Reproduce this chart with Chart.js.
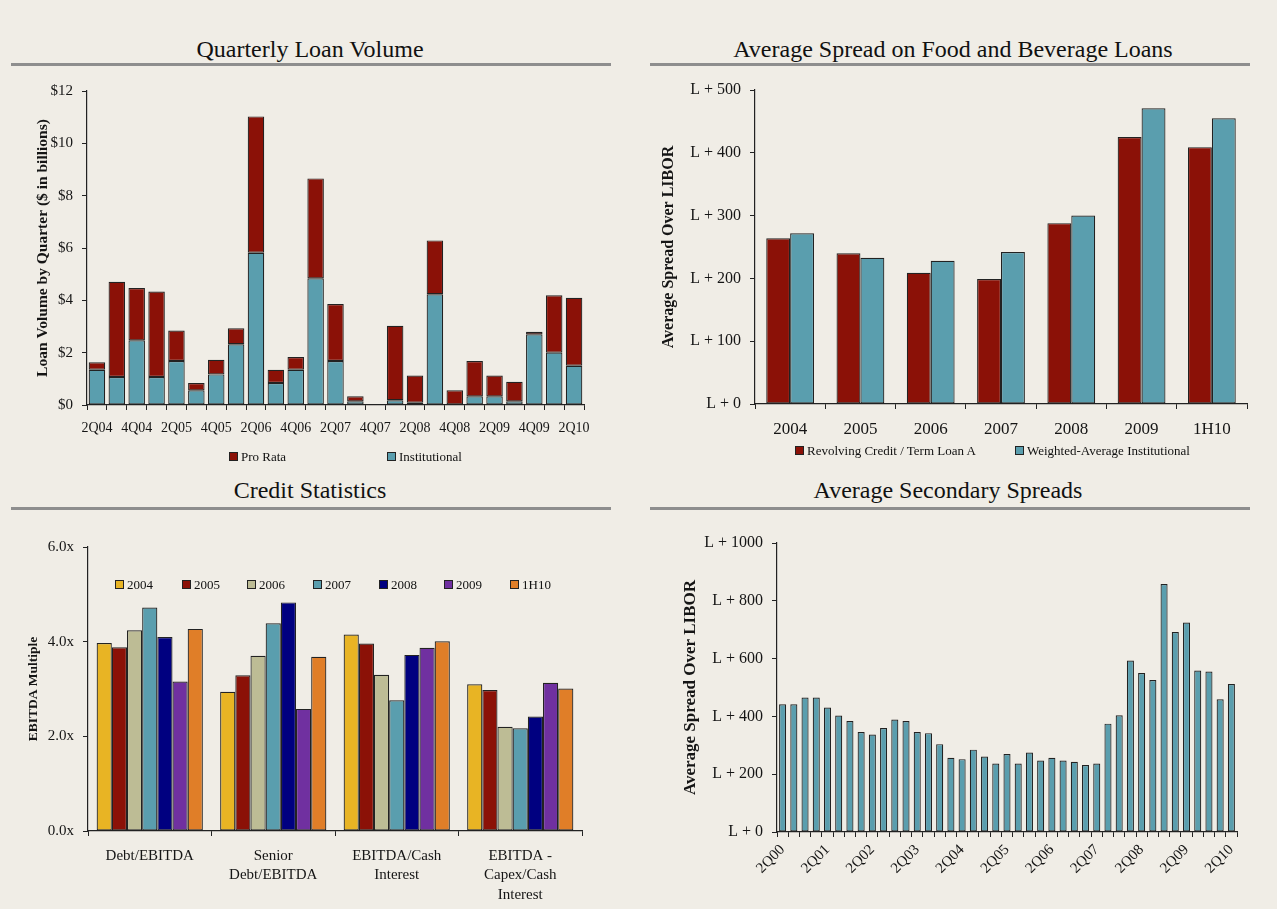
<!DOCTYPE html>
<html>
<head>
<meta charset="utf-8">
<script src="https://cdn.jsdelivr.net/npm/chart.js@4.4.0/dist/chart.umd.min.js"></script>
<style>
  html, body { margin:0; padding:0; }
  body { width:1277px; height:909px; overflow:hidden; position:relative; background:#F0EDE6;
         font-family:"Liberation Serif","Times New Roman",serif; color:#111; }
  .title { position:absolute; text-align:center; font-size:24px; line-height:1; white-space:nowrap; }
  .rule { position:absolute; height:3px; background:#8e8e8e; }
  canvas { position:absolute; }
  .lg { position:absolute; display:flex; align-items:center; font-size:13px; white-space:nowrap; line-height:1; }
  .sw { display:inline-block; width:7px; height:7px; border:1px solid #222; margin-right:3px; }
</style>
</head>
<body>
<div class="title" style="left:10px;width:600px;top:37px;">Quarterly Loan Volume</div>
<div class="rule" style="left:11px;width:600px;top:63px;"></div>
<div class="title" style="left:653px;width:600px;top:37px;">Average Spread on Food and Beverage Loans</div>
<div class="rule" style="left:650px;width:600px;top:63px;"></div>
<div class="title" style="left:10px;width:600px;top:478px;">Credit Statistics</div>
<div class="rule" style="left:11px;width:600px;top:507px;"></div>
<div class="title" style="left:648px;width:600px;top:478px;">Average Secondary Spreads</div>
<div class="rule" style="left:650px;width:600px;top:507px;"></div>

<canvas id="c1" width="620" height="380" style="left:0;top:70px;"></canvas>
<canvas id="c2" width="637" height="380" style="left:640px;top:70px;"></canvas>
<canvas id="c3" width="620" height="389" style="left:0;top:520px;"></canvas>
<canvas id="c4" width="637" height="389" style="left:640px;top:520px;"></canvas>
<div id="legends"></div>

<script>
// ---------- DATA ----------
const loanQuarters = ['2Q04','3Q04','4Q04','1Q05','2Q05','3Q05','4Q05','1Q06','2Q06','3Q06','4Q06','1Q07','2Q07','3Q07','4Q07','1Q08','2Q08','3Q08','4Q08','1Q09','2Q09','3Q09','4Q09','1Q10','2Q10'];
const institutionalVolume = [1.35,1.07,2.47,1.07,1.68,0.56,1.17,2.32,5.82,0.84,1.35,4.84,1.68,0.14,0,0.18,0.09,4.23,0,0.33,0.33,0.14,2.70,2.00,1.50];
const proRataVolume       = [0.28,3.64,2.00,3.27,1.17,0.28,0.56,0.61,5.21,0.51,0.48,3.82,2.18,0.19,0,2.85,1.04,2.06,0.56,1.35,0.80,0.75,0.10,2.19,2.60];
const loanVolumeTicks = [0,2,4,6,8,10,12];

const spreadYears = ['2004','2005','2006','2007','2008','2009','1H10'];
const revolvingSpread = [264,240,209,199,288,425,409];
const institutionalSpread = [272,233,228,242,300,471,455];

const creditCategories = [['Debt/EBITDA'],['Senior','Debt/EBITDA'],['EBITDA/Cash','Interest'],['EBITDA -','Capex/Cash','Interest']];
const creditYears = ['2004','2005','2006','2007','2008','2009','1H10'];
const credit2004 = [3.97,2.94,4.15,3.10];
const credit2005 = [3.88,3.29,3.96,2.98];
const credit2006 = [4.24,3.70,3.30,2.20];
const credit2007 = [4.72,4.39,2.76,2.17];
const credit2008 = [4.10,4.83,3.72,2.42];
const credit2009 = [3.16,2.58,3.87,3.13];
const credit1H10 = [4.27,3.68,4.01,3.01];

const secondaryQuarters = ['2Q00','3Q00','4Q00','1Q01','2Q01','3Q01','4Q01','1Q02','2Q02','3Q02','4Q02','1Q03','2Q03','3Q03','4Q03','1Q04','2Q04','3Q04','4Q04','1Q05','2Q05','3Q05','4Q05','1Q06','2Q06','3Q06','4Q06','1Q07','2Q07','3Q07','4Q07','1Q08','2Q08','3Q08','4Q08','1Q09','2Q09','3Q09','4Q09','1Q10','2Q10'];
const secondarySpread = [442,442,465,465,431,403,384,346,337,360,389,384,346,342,304,257,252,285,261,237,270,237,275,247,257,247,243,232,237,375,404,593,550,526,858,692,725,559,555,459,512];

// ---------- STYLE ----------
const SERIF = '"Liberation Serif","Times New Roman",serif';
const RED = '#8B1107', TEAL = '#5A9EAE';
const yearColors = ['#E8B424','#8B1107','#BDBC95','#5A9EAE','#000080','#7030A0','#E07E28'];
const INK = '#151515', AX = '#222';
Chart.defaults.font.family = SERIF;
Chart.defaults.color = INK;

function yAxis(max, step, fmt, title, titleSize, width, fontSize) {
  return {
    min: 0, max: max,
    ticks: { stepSize: step, callback: fmt, font: { size: fontSize }, color: INK, padding: 9 },
    grid: { drawOnChartArea: false, drawTicks: true, tickLength: 5, color: AX, lineWidth: 1 },
    border: { color: AX, width: 1.2 },
    title: { display: true, text: title, color: INK, font: { size: titleSize, weight: 'bold' }, padding: { top: 4, bottom: 4 } },
    afterFit(s) { s.width = width; }
  };
}
function xAxis(height, tickOpts) {
  return {
    ticks: Object.assign({ autoSkip: false, maxRotation: 0, color: INK, padding: 10 }, tickOpts),
    grid: { drawOnChartArea: false, drawTicks: true, tickLength: 5, color: AX, lineWidth: 1, offset: true },
    border: { color: AX, width: 1.2 },
    afterFit(s) { s.height = height; }
  };
}
const common = { responsive: false, animation: false, plugins: { legend: { display: false }, tooltip: { enabled: false } } };

// ---------- Chart 1: Quarterly Loan Volume ----------
new Chart(document.getElementById('c1'), {
  type: 'bar',
  data: {
    labels: loanQuarters,
    datasets: [
      { label: 'Institutional', data: institutionalVolume, backgroundColor: TEAL, borderColor: AX, borderWidth: 1.2, borderSkipped: false, barPercentage: 0.83, categoryPercentage: 1 },
      { label: 'Pro Rata', data: proRataVolume, backgroundColor: RED, borderColor: AX, borderWidth: 1.2, borderSkipped: false, barPercentage: 0.83, categoryPercentage: 1 }
    ]
  },
  options: Object.assign({}, common, {
    layout: { padding: { left: 30, top: 21, right: 36, bottom: 0 } },
    scales: {
      x: Object.assign(xAxis(45, { font: { size: 14 }, callback: (v, i) => (i % 2 === 0 ? loanQuarters[i] : '') }), { stacked: true }),
      y: Object.assign(yAxis(12, 2, v => loanVolumeTicks.includes(v) ? '$' + v : '', 'Loan Volume by Quarter ($ in billions)', 15.5, 57, 15), { stacked: true })
    }
  })
});

// ---------- Chart 2: Average Spread on F&B Loans ----------
new Chart(document.getElementById('c2'), {
  type: 'bar',
  data: {
    labels: spreadYears,
    datasets: [
      { label: 'Revolving Credit / Term Loan A', data: revolvingSpread, backgroundColor: RED, borderColor: AX, borderWidth: 1.2, borderSkipped: false, barPercentage: 1, categoryPercentage: 0.68 },
      { label: 'Weighted-Average Institutional', data: institutionalSpread, backgroundColor: TEAL, borderColor: AX, borderWidth: 1.2, borderSkipped: false, barPercentage: 1, categoryPercentage: 0.68 }
    ]
  },
  options: Object.assign({}, common, {
    layout: { padding: { left: 15, top: 20, right: 30, bottom: 0 } },
    scales: {
      x: xAxis(46, { font: { size: 17 } }),
      y: yAxis(500, 100, v => 'L + ' + v, 'Average Spread Over LIBOR', 16, 100, 16)
    }
  })
});

// ---------- Chart 3: Credit Statistics ----------
const creditSeries = [credit2004, credit2005, credit2006, credit2007, credit2008, credit2009, credit1H10];
new Chart(document.getElementById('c3'), {
  type: 'bar',
  data: {
    labels: creditCategories,
    datasets: creditSeries.map((d, i) => ({
      label: creditYears[i], data: d, backgroundColor: yearColors[i], borderColor: AX, borderWidth: 1.2, borderSkipped: false, barPercentage: 1, categoryPercentage: 0.86
    }))
  },
  options: Object.assign({}, common, {
    layout: { padding: { left: 21, top: 27, right: 38, bottom: 0 } },
    scales: {
      x: xAxis(78, { font: { size: 15, lineHeight: 1.3 } }),
      y: yAxis(6, 2, v => v.toFixed(1) + 'x', 'EBITDA Multiple', 13.5, 67, 15)
    }
  })
});

// ---------- Chart 4: Average Secondary Spreads ----------
new Chart(document.getElementById('c4'), {
  type: 'bar',
  data: {
    labels: secondaryQuarters,
    datasets: [
      { label: 'Average Secondary Spread', data: secondarySpread, backgroundColor: TEAL, borderColor: AX, borderWidth: 1.2, borderSkipped: false, barPercentage: 0.63, categoryPercentage: 1 }
    ]
  },
  options: Object.assign({}, common, {
    layout: { padding: { left: 36, top: 23, right: 40, bottom: 0 } },
    scales: {
      x: xAxis(77, { font: { size: 15 }, minRotation: 45, maxRotation: 45, padding: 4, callback: (v, i) => (i % 4 === 0 ? secondaryQuarters[i] : '') }),
      y: yAxis(1000, 200, v => 'L + ' + v, 'Average Spread Over LIBOR', 17, 101, 16)
    }
  })
});

// ---------- Legends (HTML) ----------
const legendDefs = [
  { items: ['Pro Rata', 'Institutional'], colors: [RED, TEAL], xs: [229, 387], y: 456 },
  { items: ['Revolving Credit / Term Loan A', 'Weighted-Average Institutional'], colors: [RED, TEAL], xs: [795, 1015], y: 450 },
  { items: creditYears, colors: yearColors, xs: [115, 182, 247, 313, 379, 444, 510], y: 584 }
];
const lgRoot = document.getElementById('legends');
legendDefs.forEach(def => {
  def.items.forEach((t, i) => {
    const el = document.createElement('div');
    el.className = 'lg';
    el.style.left = def.xs[i] + 'px';
    el.style.top = (def.y - 7) + 'px';
    el.style.height = '14px';
    el.innerHTML = '<span class="sw" style="background:' + def.colors[i] + '"></span><span>' + t + '</span>';
    lgRoot.appendChild(el);
  });
});
</script>
</body>
</html>
